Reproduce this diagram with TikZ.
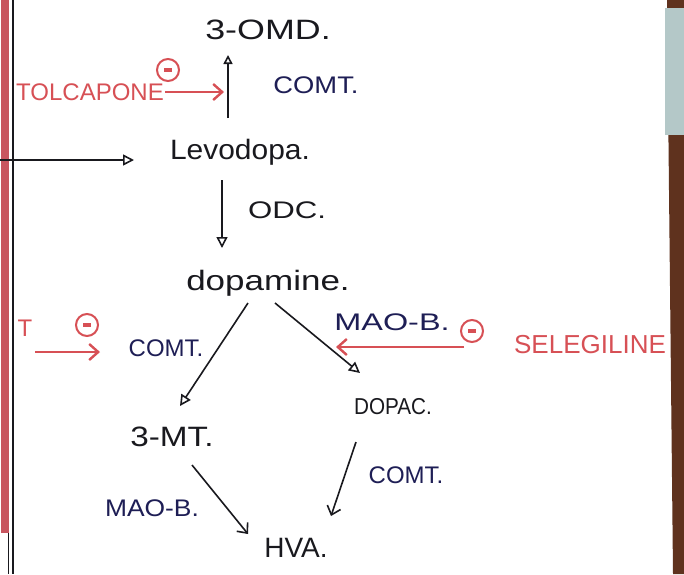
\documentclass[tikz,border=0pt]{standalone}
\usepackage{fontspec}
\setmainfont{Liberation Sans}
\usetikzlibrary{arrows.meta}
\definecolor{ink}{RGB}{25,25,30}
\definecolor{navy}{RGB}{30,30,85}
\definecolor{redink}{RGB}{215,80,85}
\definecolor{marginred}{RGB}{200,85,95}
\definecolor{edgebrown}{RGB}{95,50,30}
\definecolor{edgeblue}{RGB}{180,200,200}
\begin{document}
\begin{tikzpicture}[x=1pt,y=-1pt,
  chem/.style={font=\fontsize{28}{30}\selectfont, text=ink, inner sep=1pt},
  enz/.style={font=\fontsize{24}{26}\selectfont, text=navy, inner sep=1pt},
  drug/.style={font=\fontsize{24}{26}\selectfont, text=redink, inner sep=1pt},
  inh/.style={circle, draw=redink, line width=2pt, minimum size=22pt, inner sep=0pt, text=redink},
  arr/.style={draw=ink, line width=1.6pt, -{Triangle[open, length=11pt, width=11pt, line width=1.6pt]}},
  barb/.style={draw=ink, line width=1.6pt, -{Straight Barb[length=8pt, width=14pt]}},
  redarr/.style={draw=redink, line width=2.4pt, -{Straight Barb[length=9pt, width=16pt]}},
]
\useasboundingbox (0,0) rectangle (684,574);
\fill[white] (0,0) rectangle (684,574);
% notebook margin
\fill[marginred] (1,0) rectangle (9,533);
\draw[ink, line width=1pt] (8,533) -- (8,574);
\draw[ink, line width=1.2pt] (13,0) -- (13,574);
% right paper edge
\fill[edgebrown] (667,0) -- (684,0) -- (684,574) -- (673,574) -- cycle;
\fill[edgeblue] (665,8) rectangle (684,135);

% compounds
\node[chem, xscale=1.28] (omd) at (268,30) {3-OMD.};
\node[chem, xscale=1.07] (levodopa) at (240,152) {Levodopa.};
\node[chem, xscale=1.25] (dopamine) at (268,283) {dopamine.};
\node[chem, xscale=1.19] (mt) at (172,437) {3-MT.};
\node[chem, font=\fontsize{23}{25}\selectfont, xscale=0.9] (dopac) at (393,407) {DOPAC.};
\node[chem] (hva) at (296,548) {HVA.};

% enzymes
\node[enz, xscale=1.14] (comt1) at (316,85) {COMT.};
\node[enz, text=ink, xscale=1.3] (odc) at (287,210) {ODC.};
\node[enz] (comt2) at (166,348) {COMT.};
\node[enz, xscale=1.35] (maob1) at (392,322) {MAO-B.};
\node[enz, xscale=1.1] (maob2) at (152,508) {MAO-B.};
\node[enz] (comt3) at (406,475) {COMT.};

% drugs
\node[drug] (tolcapone) at (90,92) {TOLCAPONE};
\node[drug, font=\fontsize{26}{28}\selectfont] (selegiline) at (590,345) {SELEGILINE};
\node[drug] (tfrag) at (25,328) {T};
\node[inh] (inh1) at (168,70) {\rule{8pt}{3.5pt}};
\node[inh] (inh2) at (87,325) {\rule{8pt}{3.5pt}};
\node[inh] (inh3) at (472,331) {\rule{8pt}{3.5pt}};

% connector ends
\coordinate (src) at (0,160);
\coordinate (a1s) at (228,118);
\coordinate (a1e) at (228,55);
\coordinate (a2s) at (222,180);
\coordinate (a2e) at (222,248);
\coordinate (a3s) at (248,303);
\coordinate (a3e) at (180,406);
\coordinate (a4s) at (275,303);
\coordinate (a4e) at (360,373);
\coordinate (a5s) at (192,465);
\coordinate (a5e) at (248,534);
\coordinate (a6s) at (356,442);
\coordinate (a6e) at (331,516);
\coordinate (r1e) at (224,92);
\coordinate (r2s) at (35,352);
\coordinate (r2e) at (100,352);
\coordinate (r3s) at (464,347);
\coordinate (r3e) at (336,347);
\coordinate (hline) at (134,160);

% pathway arrows
\draw[arr] (src) -- (hline);
\draw[draw=ink, line width=1.6pt, -{Triangle[open, length=9pt, width=9pt, line width=1.6pt]}] (a1s) -- (a1e);
\draw[arr] (a2s) -- (a2e);
\draw[arr] (a3s) -- (a3e);
\draw[arr] (a4s) -- (a4e);
\draw[barb] (a5s) -- (a5e);
\draw[barb] (a6s) -- (a6e);

% inhibitor arrows
\draw[redarr] (tolcapone.east) -- (r1e);
\draw[redarr] (r2s) -- (r2e);
\draw[redarr] (r3s) -- (r3e);
\end{tikzpicture}
\end{document}
